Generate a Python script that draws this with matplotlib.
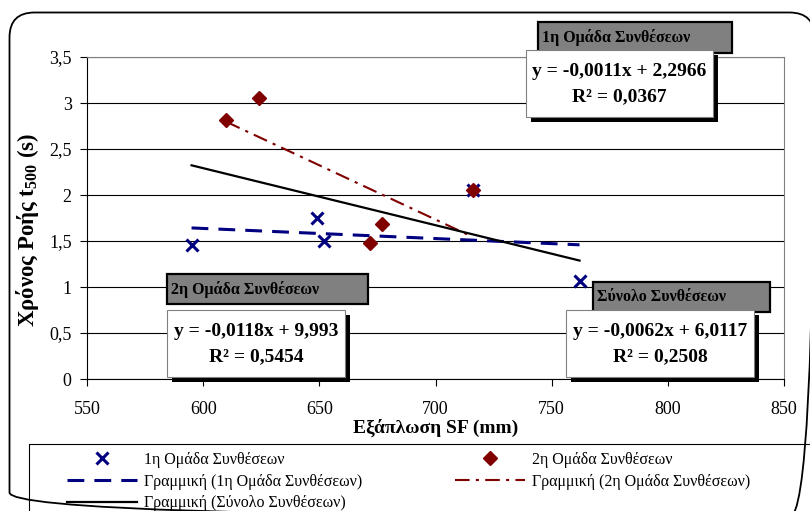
import numpy as np
import matplotlib
matplotlib.use('Agg')
import matplotlib.pyplot as plt
from matplotlib.patches import Rectangle, FancyBboxPatch
from matplotlib.ticker import FuncFormatter, MultipleLocator

plt.rcParams['font.family'] = ['Liberation Serif', 'DejaVu Serif']
plt.rcParams['mathtext.fontset'] = 'custom'
plt.rcParams['mathtext.rm'] = 'Liberation Serif'
plt.rcParams['mathtext.bf'] = 'Liberation Serif:bold'

# Εξάπλωση SF (mm) και χρόνος ροής t500 (s) ανά ομάδα
sf_1 = [595, 649, 652, 716, 762]
t500_1 = [1.46, 1.75, 1.50, 2.05, 1.07]
sf_2 = [610, 624, 672, 677, 716]
t500_2 = [2.81, 3.05, 1.48, 1.69, 2.05]

# γραμμικές τάσεις: κλίση, σταθερός όρος, R²
fit_1 = (-0.0011, 2.2966, 0.0367)
fit_2 = (-0.0118, 9.993, 0.5454)
fit_all = (-0.0062, 6.0117, 0.2508)

names = ['1η Ομάδα Συνθέσεων', '2η Ομάδα Συνθέσεων', 'Σύνολο Συνθέσεων']

W, H = 810, 511
BLUE = '#000080'
RED = '#800000'


def trend(xs, fit):
    x = np.array([min(xs), max(xs)], dtype=float)
    return x, fit[0] * x + fit[1]


def comma(v):
    return ('%g' % v).replace('.', ',')


fig = plt.figure(figsize=(W / 100, H / 100), dpi=100)
ax = fig.add_axes([87 / W, 1 - 379 / H, (784 - 87) / W, (379 - 57) / H])

h1, = ax.plot(sf_1, t500_1, ls='none', marker='x', ms=8.5, mew=2.2,
              color=BLUE, zorder=3)
h2, = ax.plot(sf_2, t500_2, ls='none', marker='D', ms=7, mec=RED,
              color=RED, zorder=3)

x, y = trend(sf_1, fit_1)
l1, = ax.plot(x, y, color=BLUE, lw=2.2, dashes=(5.5, 3.3), zorder=4)
x, y = trend(sf_2, fit_2)
l2, = ax.plot(x, y, color=RED, lw=1.5, dashes=(7, 3, 1.5, 3), zorder=4)
x, y = trend(sf_1 + sf_2, fit_all)
l3, = ax.plot(x, y, color='black', lw=1.6, zorder=4)

ax.set_xlim(550, 850)
ax.set_ylim(0, 3.5)
ax.xaxis.set_major_locator(MultipleLocator(50))
ax.yaxis.set_major_locator(MultipleLocator(0.5))
ax.yaxis.set_major_formatter(FuncFormatter(lambda v, p: comma(round(v, 1))))
ax.yaxis.grid(True, color='black', lw=0.8)
ax.set_axisbelow(True)
for s in ['top', 'right']:
    ax.spines[s].set_color('#808080')
ax.tick_params(direction='out', length=5, width=0.8, labelsize=13, pad=6)
ax.tick_params(axis='x', pad=11)

ax.set_xlabel('Εξάπλωση SF (mm)', fontsize=14, fontweight='bold', labelpad=0)
ax.set_ylabel(r'Χρόνος Ροής t$_{\mathbf{500}}$ (s)', fontsize=16.5,
              fontweight='bold')
ax.yaxis.set_label_coords(41 / W, 1 - 230 / H, transform=fig.transFigure)

# επικάλυψη σε pixel για πλαίσια, ετικέτες τάσεων και υπόμνημα
ov = fig.add_axes([0, 0, 1, 1], zorder=3)
ov.set_xlim(0, W)
ov.set_ylim(H, 0)
ov.axis('off')
ov.patch.set_alpha(0)

ov.add_patch(FancyBboxPatch((9.5, 12.5), 805, 505,
                            boxstyle='round,pad=0,rounding_size=25',
                            fill=False, ec='black', lw=1.3))
ov.add_patch(Rectangle((29, 444), 800, 100, fill=False, ec='black', lw=0.8))

# (τίτλος: x0, x1, y0, y1), (εξίσωση: x0, x1, y0, y1)
boxes = [
    ((538, 732, 22, 53), (526, 713, 50, 117)),
    ((167, 368, 274, 304), (167, 345, 310, 377)),
    ((593, 770, 282, 312), (566, 754, 310, 377)),
]
for name, fit, (gb, wb) in zip(names, [fit_1, fit_2, fit_all], boxes):
    gx0, gx1, gy0, gy1 = gb
    ov.add_patch(Rectangle((gx0, gy0), gx1 - gx0, gy1 - gy0, fc='#808080',
                           ec='black', lw=1.6))
    ov.text(gx0 + 4, (gy0 + gy1) / 2, name, fontsize=11.5, fontweight='bold',
            ha='left', va='center')
    wx0, wx1, wy0, wy1 = wb
    ov.add_patch(Rectangle((wx0 + 5, wy0 + 5), wx1 - wx0, wy1 - wy0,
                           fc='black', ec='none'))
    ov.add_patch(Rectangle((wx0, wy0), wx1 - wx0, wy1 - wy0, fc='white',
                           ec='#808080', lw=0.8))
    cx = (wx0 + wx1) / 2
    ov.text(cx, wy0 + 21, 'y = %sx + %s' % (comma(fit[0]), comma(fit[1])),
            fontsize=14, fontweight='bold', ha='center', va='center')
    ov.text(cx, wy0 + 47, 'R² = %s' % ('%.4f' % fit[2]).replace('.', ','),
            fontsize=14, fontweight='bold', ha='center', va='center')

leg_kw = dict(loc='upper left', frameon=False, fontsize=11.5, handlelength=4.4,
              handletextpad=0.4, borderpad=0, borderaxespad=0, labelspacing=0.35)
leg1 = fig.legend([h1, l1, l3],
                  [names[0], 'Γραμμική (%s)' % names[0], 'Γραμμική (%s)' % names[2]],
                  bbox_to_anchor=(67 / W, 1 - 452 / H), **leg_kw)
leg2 = fig.legend([h2, l2],
                  [names[1], 'Γραμμική (%s)' % names[1]],
                  bbox_to_anchor=(455 / W, 1 - 452 / H), **leg_kw)

fig.savefig('out.png', dpi=100)
